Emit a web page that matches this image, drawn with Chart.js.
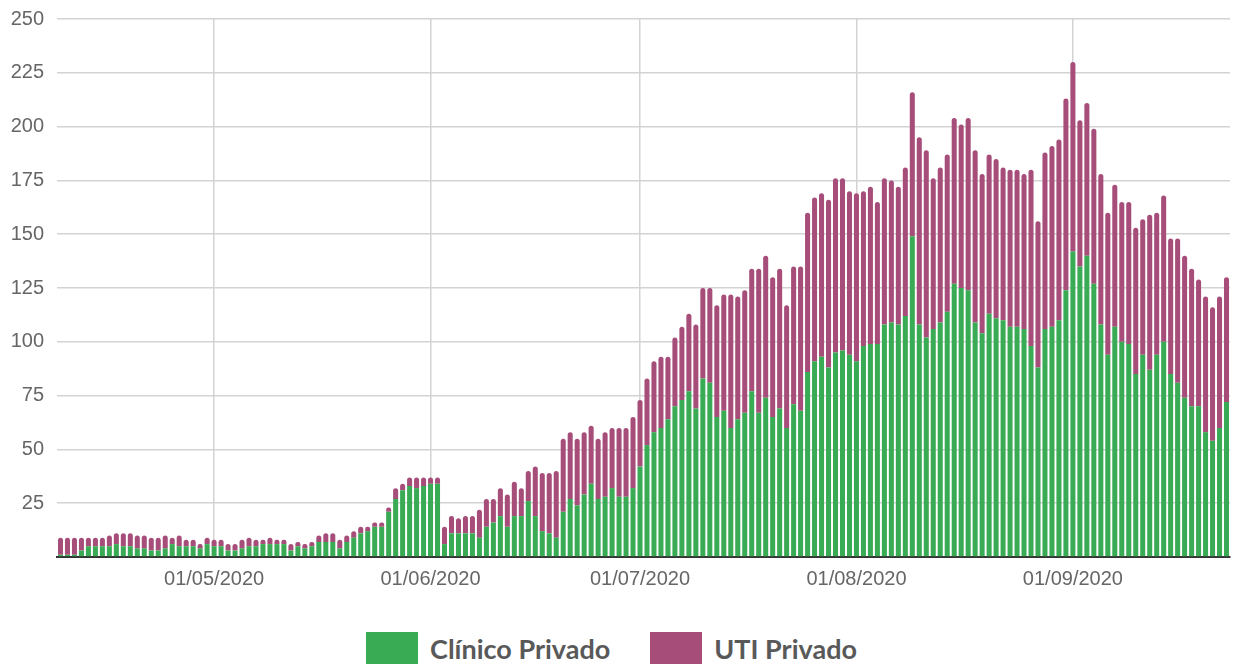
<!DOCTYPE html>
<html>
<head>
<meta charset="utf-8">
<title>Leitos ocupados - Privado</title>
<script src="https://cdn.jsdelivr.net/npm/chart.js@4.4.0/dist/chart.umd.min.js"></script>
<style>
  html, body { margin: 0; padding: 0; background: #fff; }
  #wrap { width: 1233px; height: 664px; position: relative; overflow: hidden; }
  #legend {
    position: absolute; left: 0; top: 632px; width: 1223px; height: 32px;
    display: flex; justify-content: center; align-items: center;
    font-family: Lato, "Open Sans", sans-serif; font-weight: bold; font-size: 27px; color: #595959;
  }
  .item { display: flex; align-items: center; margin: 0 20px; }
  .box { width: 52px; height: 32px; margin-right: 12px; }
</style>
</head>
<body>
<div id="wrap">
  <canvas id="leitosChart" width="1233" height="632"></canvas>
  <div id="legend"></div>
</div>
<script>
// first day shown and number of days (one bar per day)
const startDate = new Date(2020, 3, 9);
const dayCount = 168;

const yTicks = [0, 25, 50, 75, 100, 125, 150, 175, 200, 225, 250];

// Clínico Privado (green, bottom of stack)
const clinico = [
  1, 1, 1, 3, 5, 5, 5, 5, 6, 5,
  5, 4, 4, 3, 3, 4, 6, 5, 5, 5,
  4, 6, 5, 5, 3, 3, 4, 5, 5, 6,
  6, 6, 6, 3, 5, 4, 5, 7, 7, 7,
  4, 7, 9, 11, 12, 14, 14, 21, 27, 31,
  33, 32, 33, 34, 34, 6, 11, 11, 11, 11,
  9, 14, 16, 19, 14, 19, 19, 26, 19, 12,
  11, 9, 21, 27, 24, 29, 34, 27, 28, 32,
  28, 28, 32, 42, 52, 58, 60, 64, 70, 73,
  77, 69, 83, 81, 65, 68, 60, 64, 67, 77,
  67, 74, 65, 69, 60, 71, 68, 86, 91, 93,
  88, 95, 96, 94, 91, 98, 99, 99, 108, 109,
  108, 112, 149, 108, 102, 106, 109, 114, 127, 125,
  124, 109, 104, 113, 111, 110, 107, 107, 106, 98,
  88, 106, 107, 110, 124, 142, 135, 140, 127, 108,
  94, 107, 100, 99, 85, 94, 87, 94, 100, 85,
  81, 74, 70, 70, 58, 54, 60, 72
];

// UTI Privado (purple, stacked on top)
const uti = [
  8, 8, 8, 6, 4, 4, 4, 5, 5, 6,
  6, 6, 6, 6, 6, 6, 3, 5, 3, 3,
  2, 3, 3, 3, 3, 3, 4, 4, 3, 2,
  3, 2, 2, 3, 2, 2, 2, 3, 4, 4,
  4, 3, 3, 3, 2, 2, 2, 2, 5, 3,
  4, 5, 4, 3, 3, 8, 8, 7, 8, 8,
  13, 13, 11, 13, 15, 16, 13, 14, 23, 27,
  28, 31, 34, 31, 31, 29, 27, 28, 30, 28,
  32, 32, 33, 31, 31, 33, 33, 29, 32, 34,
  36, 39, 42, 44, 52, 54, 62, 57, 57, 57,
  67, 66, 65, 65, 57, 64, 67, 74, 76, 76,
  78, 81, 80, 76, 78, 72, 73, 66, 68, 66,
  64, 69, 67, 87, 87, 70, 72, 73, 77, 76,
  80, 80, 74, 74, 74, 71, 73, 73, 72, 82,
  68, 82, 84, 84, 89, 88, 68, 71, 72, 70,
  66, 66, 65, 66, 68, 63, 72, 66, 68, 63,
  67, 66, 64, 59, 63, 62, 61, 58
];

const seriesNames = ["Clínico Privado", "UTI Privado"];
const seriesColors = ["#38ab54", "#a64d79"];

// dd/mm/yyyy labels
function pad(n) {
  return n < 10 ? "0" + n : "" + n;
}
const dates = [];
for (let i = 0; i < dayCount; i++) {
  const d = new Date(startDate.getFullYear(), startDate.getMonth(), startDate.getDate() + i);
  dates.push(pad(d.getDate()) + "/" + pad(d.getMonth() + 1) + "/" + d.getFullYear());
}

function isMonthStart(i) {
  return dates[i] && dates[i].startsWith("01/");
}

const tickFont = { family: "'Liberation Sans', Arial, sans-serif", size: 20 };
const gridColor = "#d3d3d3";

new Chart(document.getElementById("leitosChart").getContext("2d"), {
  type: "bar",
  data: {
    labels: dates,
    datasets: [
      {
        label: seriesNames[0],
        data: clinico,
        backgroundColor: seriesColors[0],
        borderRadius: 2.5,
        barPercentage: 0.72,
        categoryPercentage: 1,
      },
      {
        label: seriesNames[1],
        data: uti,
        backgroundColor: seriesColors[1],
        borderRadius: 2.5,
        barPercentage: 0.72,
        categoryPercentage: 1,
      },
    ],
  },
  options: {
    responsive: false,
    animation: false,
    layout: { padding: { top: 19, right: 3, left: 0, bottom: 0 } },
    plugins: {
      legend: { display: false },
      tooltip: { enabled: false },
    },
    scales: {
      x: {
        stacked: true,
        offset: true,
        grid: {
          offset: false,
          drawTicks: false,
          lineWidth: 1.5,
          color: function (ctx) {
            return isMonthStart(ctx.index) ? gridColor : "rgba(0,0,0,0)";
          },
        },
        border: { color: "#333333", width: 2 },
        ticks: {
          autoSkip: false,
          maxRotation: 0,
          minRotation: 0,
          padding: 10,
          color: "#666666",
          font: tickFont,
          callback: function (value, index) {
            return isMonthStart(index) ? dates[index] : "";
          },
        },
        afterFit: function (scale) {
          scale.height = 75;
          scale.paddingLeft = 0;
          scale.paddingRight = 0;
        },
      },
      y: {
        stacked: true,
        min: yTicks[0],
        max: yTicks[yTicks.length - 1],
        afterBuildTicks: function (scale) {
          scale.ticks = yTicks.map((v) => ({ value: v }));
        },
        grid: { color: gridColor, lineWidth: 1.5, drawTicks: false },
        border: { display: false },
        ticks: {
          padding: 13,
          color: "#666666",
          font: tickFont,
          callback: function (value) {
            return value === 0 ? "" : value;
          },
        },
        afterFit: function (scale) {
          scale.width = 57;
          scale.paddingTop = 0;
          scale.paddingBottom = 0;
        },
      },
    },
  },
});

// Legend below the chart
const legend = document.getElementById("legend");
seriesNames.forEach((name, i) => {
  const item = document.createElement("div");
  item.className = "item";
  item.innerHTML = '<span class="box" style="background:' + seriesColors[i] + '"></span><span>' + name + "</span>";
  legend.appendChild(item);
});
</script>
</body>
</html>
